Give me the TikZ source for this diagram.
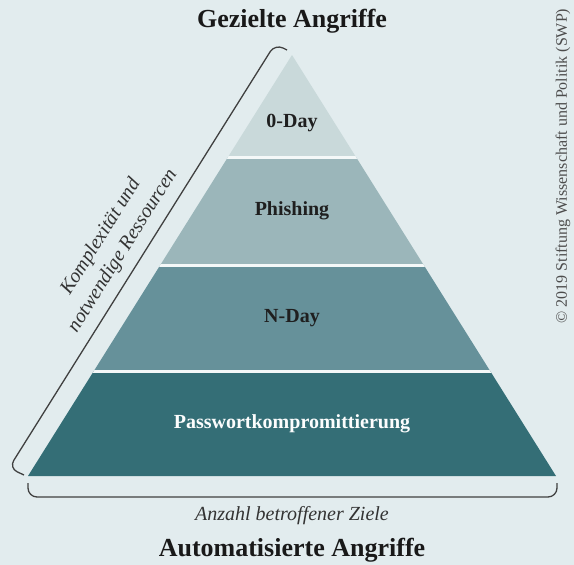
\documentclass[tikz,border=0pt]{standalone}
\usepackage{fontspec}
\setmainfont{Liberation Serif}
\usetikzlibrary{shapes.geometric, arrows}

\definecolor{bgblue}{HTML}{E2ECEE}
\definecolor{tierone}{HTML}{C9D9DA}
\definecolor{tiertwo}{HTML}{9BB6BA}
\definecolor{tierthree}{HTML}{66919A}
\definecolor{tierfour}{HTML}{346E76}
\definecolor{gapwhite}{HTML}{F4F8F8}

\begin{document}
\begin{tikzpicture}[x=1pt, y=-1pt]
\tikzstyle{title} = [font=\fontsize{26}{29}\selectfont\bfseries, text=black!90]
\tikzstyle{tier} = [font=\fontsize{20}{23}\selectfont\bfseries, text=black!88]
\tikzstyle{axis} = [font=\fontsize{20}{24}\selectfont\itshape, text=black!80]
\tikzstyle{bracket} = [draw=black!75, line width=1.3pt, rounded corners=9pt]
\tikzstyle{gap} = [draw=gapwhite, line width=3pt]

\fill[bgblue] (0,0) rectangle (574,565);
\useasboundingbox (0,0) rectangle (574,565);

% pyramid tiers
\begin{scope}
\clip (292,55) -- (556,476) -- (28,476) -- cycle;
\fill[tierone] (0,0) rectangle (574,157);
\fill[tiertwo] (0,157) rectangle (574,265);
\fill[tierthree] (0,265) rectangle (574,371);
\fill[tierfour] (0,371) rectangle (574,480);
\draw[gap] (0,157) -- (574,157);
\draw[gap] (0,265) -- (574,265);
\draw[gap] (0,371) -- (574,371);
\end{scope}

\node (zeroday) [tier] at (292,123) {0-Day};
\node (phishing) [tier] at (292,211) {Phishing};
\node (nday) [tier] at (292,318) {N-Day};
\node (passwort) [tier, text=white!95!tierone] at (292,424) {Passwortkompromittierung};

% brackets
\draw [bracket] (287,50) -- (275,44) -- (9,468) -- (24,475);
\draw [bracket] (28,483) -- (28,497) -- (557,497) -- (557,483);

\node (komplex) [axis, rotate=57.9, align=center] at (112,244) {Komplexität und\\[2pt]notwendige Ressourcen};
\node (anzahl) [axis] at (292,516) {Anzahl betroffener Ziele};

\node (gezielt) [title] at (292,21) {Gezielte Angriffe};
\node (auto) [title] at (292,550) {Automatisierte Angriffe};

\node (copy) [rotate=90, font=\fontsize{16}{19}\selectfont, text=black!70] at (563,166) {© 2019 Stiftung Wissenschaft und Politik (SWP)};
\end{tikzpicture}
\end{document}
